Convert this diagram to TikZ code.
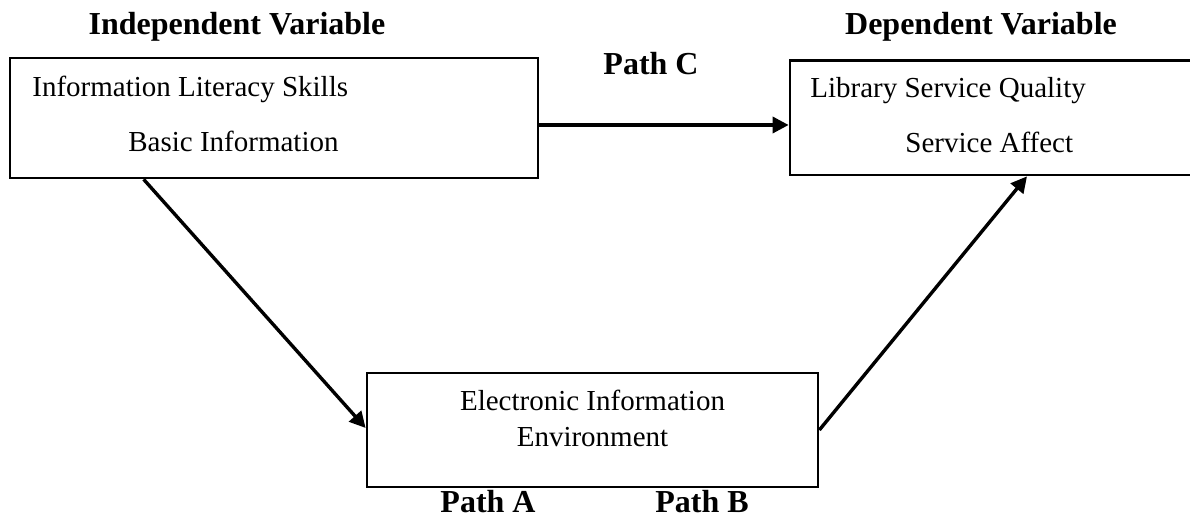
\documentclass[tikz,border=0pt]{standalone}
\usepackage{fontspec}
\setmainfont{Liberation Serif}
\usetikzlibrary{arrows.meta}

\tikzset{
    varbox/.style={rectangle, draw, line width=1.35pt, inner sep=0pt},
    boxtext/.style={inner sep=0pt, font=\fontsize{14.5}{18}\selectfont},
    heading/.style={inner sep=0pt, font=\fontsize{16}{19}\selectfont\bfseries},
    path arrow/.style={line width=1.7pt, -{Triangle[length=8pt, width=8pt]}}
}

\begin{document}
\begin{tikzpicture}[x=0.5pt, y=-0.5pt]

        \useasboundingbox (0,0) rectangle (1190,517);
        \clip (0,0) rectangle (1190,517);

        % Vertices
        \node[varbox, minimum width=264pt, minimum height=60pt](skills) at (274,118){};
        \node[varbox, minimum width=205pt, minimum height=57.25pt](quality) at (995,117.75){};
        \node[varbox, minimum width=225.5pt, minimum height=57pt](env) at (592.5,430){};
        % Texts
        \node[heading, anchor=base](indep) at (237,35){Independent Variable};
        \node[heading, anchor=base](dep) at (981,35){Dependent Variable};
        \node[boxtext, anchor=base west](skillsA) at (32,97){Information Literacy Skills};
        \node[boxtext, anchor=base west](skillsB) at (128,152){Basic Information};
        \node[boxtext, anchor=base west](qualityA) at (810,98){Library Service Quality};
        \node[boxtext, anchor=base west](qualityB) at (905,153){Service Affect};
        \node[boxtext, anchor=base](envA) at (592.5,411){Electronic Information};
        \node[boxtext, anchor=base](envB) at (592.5,447){Environment};
        \node[heading, anchor=base](pathC) at (651,75){Path C};
        \node[heading, anchor=base](pathA) at (488,513){Path A};
        \node[heading, anchor=base](pathB) at (702,513){Path B};
        % Edges
        \draw[path arrow](skills.east |- 0,125) -- (quality.west |- 0,125);
        \draw[path arrow]([xshift=67.5pt]skills.south west) -- ([yshift=1pt]env.west);
        \draw[path arrow](env.east) -- ([xshift=16pt]quality.south);

    \end{tikzpicture}
\end{document}
